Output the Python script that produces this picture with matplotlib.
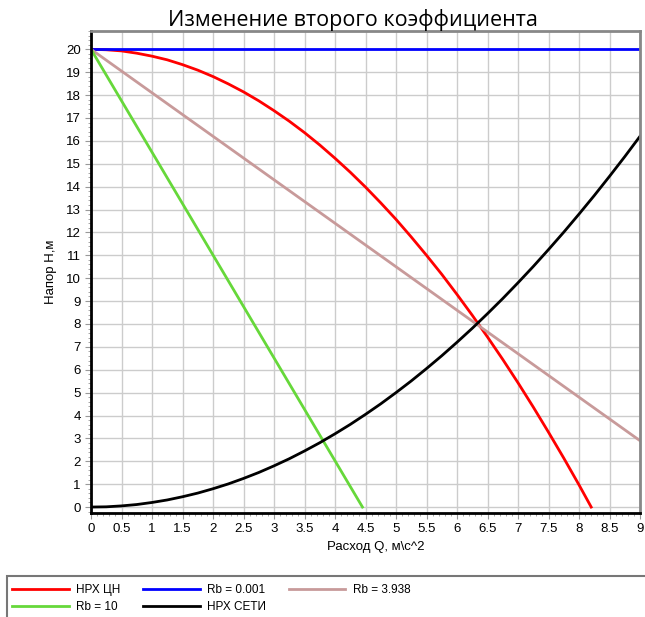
import matplotlib.pyplot as plt
import matplotlib.ticker as ticker
from matplotlib.patches import Rectangle

# values
q_pump = [0, 0.25, 0.5, 0.75, 1, 1.25, 1.5, 1.75, 2, 2.25, 2.5, 2.75, 3, 3.25,
          3.5, 3.75, 4, 4.25, 4.5, 4.75, 5, 5.25, 5.5, 5.75, 6, 6.25, 6.5,
          6.75, 7, 7.25, 7.5, 7.75, 8, 8.2]
h_pump = [20, 19.98, 19.93, 19.83, 19.7, 19.54, 19.33, 19.09, 18.81, 18.49,
          18.14, 17.75, 17.32, 16.86, 16.36, 15.82, 15.24, 14.63, 13.98, 13.29,
          12.57, 11.8, 11.0, 10.17, 9.29, 8.38, 7.43, 6.45, 5.43, 4.37, 3.27,
          2.14, 0.97, 0]

q_net = [0, 0.25, 0.5, 0.75, 1, 1.25, 1.5, 1.75, 2, 2.25, 2.5, 2.75, 3, 3.25,
         3.5, 3.75, 4, 4.25, 4.5, 4.75, 5, 5.25, 5.5, 5.75, 6, 6.25, 6.5,
         6.75, 7, 7.25, 7.5, 7.75, 8, 8.25, 8.5, 8.75, 9]
h_net = [0, 0.01, 0.05, 0.11, 0.2, 0.31, 0.45, 0.61, 0.8, 1.01, 1.25, 1.51,
         1.8, 2.11, 2.45, 2.81, 3.2, 3.61, 4.05, 4.51, 5.0, 5.51, 6.05, 6.61,
         7.2, 7.81, 8.45, 9.11, 9.8, 10.51, 11.25, 12.01, 12.8, 13.61, 14.45,
         15.31, 16.2]

q_rb1 = [0, 9]
h_rb1 = [20, 20]
q_rb2 = [0, 9]
h_rb2 = [20, 2.9]
q_rb3 = [0, 4.45]
h_rb3 = [20, 0]

plt.rcParams['font.family'] = ['Liberation Sans', 'DejaVu Sans']

W, H = 645, 617
fig = plt.figure(figsize=(6.45, 6.17), dpi=100)
ax = fig.add_axes([91/W, 1-513/H, (640-91)/W, (513-31)/H])

lw = 2.0
l_red, = ax.plot(q_pump, h_pump, color='#ff0000', lw=lw, label='НРХ ЦН')
l_blue, = ax.plot(q_rb1, h_rb1, color='#0000ff', lw=lw, label='Rb = 0.001')
l_brown, = ax.plot(q_rb2, h_rb2, color='#c89a9a', lw=lw, label='Rb = 3.938')
l_green, = ax.plot(q_rb3, h_rb3, color='#66d83a', lw=lw, label='Rb = 10')
l_black, = ax.plot(q_net, h_net, color='black', lw=lw, label='НРХ СЕТИ')

ax.set_xlim(0, 9)
ax.set_ylim(-0.26, 20.8)
ax.xaxis.set_major_locator(ticker.MultipleLocator(0.5))
ax.xaxis.set_minor_locator(ticker.MultipleLocator(0.1))
ax.yaxis.set_major_locator(ticker.MultipleLocator(1))
ax.yaxis.set_minor_locator(ticker.MultipleLocator(0.2))
ax.xaxis.set_major_formatter(ticker.FuncFormatter(lambda v, p: '{:g}'.format(v)))
ax.grid(True, which='major', color='#cccccc', lw=1)
ax.set_axisbelow(True)
ax.tick_params(which='both', colors='#999999', labelcolor='black', labelsize=9.5)
ax.tick_params(which='major', length=4)
ax.tick_params(which='minor', length=2)

ax.spines['left'].set_color('black')
ax.spines['left'].set_linewidth(2)
ax.spines['bottom'].set_color('black')
ax.spines['bottom'].set_linewidth(2)
ax.spines['top'].set_color('#888888')
ax.spines['top'].set_linewidth(2)
ax.spines['right'].set_color('#888888')
ax.spines['right'].set_linewidth(2)

ax.set_xlabel('Расход Q, м\\с^2', fontsize=9.5)
ax.xaxis.set_label_coords((376-91)/549, (513-541)/482)
ax.set_ylabel('Напор Н,м', fontsize=9.5, labelpad=6)
fig.text(353/W, 1-20/H, 'Изменение второго коэффициента', fontsize=15.5,
         ha='center', va='center', family=['Open Sans', 'DejaVu Sans'])

# legend box across the whole width
fig.patches.append(Rectangle((7/W, -0.01), (W+5-7)/W, (0.01+1-576/H),
                             transform=fig.transFigure, fill=False,
                             edgecolor='#777777', lw=1.5))
leg = fig.legend(handles=[l_red, l_green, l_blue, l_black, l_brown], ncol=3,
                 loc='upper left', bbox_to_anchor=(12/W, 1-584/H),
                 fontsize=8.5, frameon=False, handlelength=4.8,
                 borderaxespad=0, borderpad=0, labelspacing=0.45,
                 handletextpad=0.65, columnspacing=1.9)

fig.savefig('out.png', dpi=100)
